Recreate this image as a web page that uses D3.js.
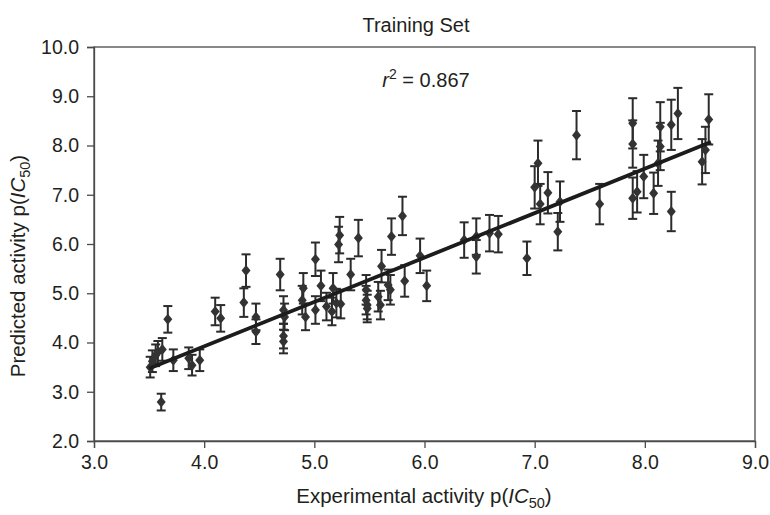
<!DOCTYPE html>
<html>
<head>
<meta charset="utf-8">
<script src="https://cdn.jsdelivr.net/npm/d3@7/dist/d3.min.js"></script>
<style>
  html, body { margin: 0; padding: 0; background: #fff; }
  svg { display: block; font-family: "Liberation Sans", Arial, Helvetica, sans-serif; }
</style>
</head>
<body>
<svg id="chart" width="770" height="515"></svg>
<script>
// ---- data ----
const expX = [3.51,3.53,3.56,3.58,3.62,3.61,3.67,3.72,3.86,3.89,3.96,4.10,4.15,4.36,4.38,4.47,4.47,4.69,4.72,4.73,
  4.72,4.72,4.89,4.90,4.92,5.01,5.01,5.06,5.11,5.16,5.17,5.20,5.24,5.22,5.23,5.33,5.40,5.47,5.47,5.48,
  5.48,5.58,5.60,5.61,5.67,5.69,5.70,5.80,5.82,5.96,6.02,6.36,6.47,6.47,6.59,6.67,6.93,7.00,7.03,7.05,
  7.12,7.21,7.23,7.38,7.59,7.89,7.89,7.89,7.93,7.99,8.08,8.14,8.14,8.12,8.24,8.24,8.30,8.52,8.55,8.58];
const predY = [3.50,3.62,3.74,3.80,3.86,2.79,4.47,3.64,3.68,3.54,3.64,4.63,4.49,4.81,5.46,4.52,4.22,5.38,4.66,4.52,
  4.13,4.02,4.86,5.10,4.52,5.69,4.66,5.15,4.73,4.63,5.10,4.80,4.78,5.99,6.18,5.38,6.12,5.07,4.86,4.76,
  4.69,4.93,4.76,5.55,5.17,5.07,6.15,6.57,5.25,5.76,5.15,6.08,6.15,5.74,6.22,6.20,5.71,7.15,7.64,6.81,
  7.04,6.25,6.86,8.21,6.81,8.45,8.03,6.93,7.06,7.37,7.03,8.38,7.98,7.64,6.66,8.42,8.65,7.67,7.91,8.53];
const predErr = [0.21,0.22,0.22,0.23,0.23,0.17,0.27,0.22,0.22,0.21,0.22,0.28,0.27,0.29,0.33,0.27,0.25,0.32,0.28,0.27,
  0.25,0.24,0.29,0.31,0.27,0.34,0.28,0.31,0.28,0.28,0.31,0.29,0.29,0.36,0.37,0.32,0.37,0.30,0.29,0.29,
  0.28,0.30,0.29,0.33,0.31,0.30,0.37,0.39,0.32,0.35,0.31,0.36,0.37,0.34,0.37,0.37,0.34,0.43,0.46,0.41,
  0.42,0.38,0.41,0.49,0.41,0.51,0.48,0.42,0.42,0.44,0.42,0.50,0.48,0.46,0.40,0.51,0.52,0.46,0.47,0.51];
const fitX = [3.50, 8.60];
const fitY = [3.47, 8.07];
const xTicks = [3, 4, 5, 6, 7, 8, 9];
const yTicks = [2, 3, 4, 5, 6, 7, 8, 9, 10];
const titleText = "Training Set";
const r2Value = "0.867";

// ---- layout ----
const svg = d3.select("#chart");
const W = 770, H = 515;
const m = { left: 94, right: 15, top: 47, bottom: 74 };
const x = d3.scaleLinear().domain([3, 9]).range([m.left, W - m.right]);
const y = d3.scaleLinear().domain([2, 10]).range([H - m.bottom, m.top]);
const ink = "#2b2b2b";
const frame = "#4a4a4a";
const txt = "#231f20";

// frame (top/right)
svg.append("rect")
  .attr("x", x(3)).attr("y", y(10))
  .attr("width", x(9) - x(3)).attr("height", y(2) - y(10))
  .attr("fill", "none").attr("stroke", frame).attr("stroke-width", 1.3);

// axes
const fmt = d3.format(".1f");
const xAxis = svg.append("g").attr("transform", `translate(0,${y(2)})`)
  .call(d3.axisBottom(x).tickValues(xTicks).tickFormat(fmt).tickSizeOuter(0).tickSize(7).tickPadding(7));
const yAxis = svg.append("g").attr("transform", `translate(${x(3)},0)`)
  .call(d3.axisLeft(y).tickValues(yTicks).tickFormat(fmt).tickSizeOuter(0).tickSize(7).tickPadding(8));
[xAxis, yAxis].forEach(g => {
  g.select(".domain").attr("stroke", frame).attr("stroke-width", 1.3);
  g.selectAll(".tick line").attr("stroke", frame).attr("stroke-width", 1.3);
  g.selectAll(".tick text").attr("fill", txt).style("font-size", "19.5px")
    .style("font-family", "'Liberation Sans',Arial,Helvetica,sans-serif");
});

// data points
const pts = expX.map((v, i) => ({ x: v, y: predY[i], e: predErr[i] }));
const bars = svg.append("g").attr("stroke", ink).attr("stroke-width", 2).attr("fill", "none");
const cap = 4.5;
pts.forEach(p => {
  const cx = x(p.x), y1 = y(p.y + p.e), y0 = y(p.y - p.e);
  bars.append("line").attr("x1", cx).attr("x2", cx).attr("y1", y1).attr("y2", y0);
  bars.append("line").attr("x1", cx - cap).attr("x2", cx + cap).attr("y1", y1).attr("y2", y1);
  bars.append("line").attr("x1", cx - cap).attr("x2", cx + cap).attr("y1", y0).attr("y2", y0);
});

const diamond = "M0,-5.5L4.5,0L0,5.5L-4.5,0Z";
svg.append("g").selectAll("path").data(pts).join("path")
  .attr("d", diamond)
  .attr("transform", d => `translate(${x(d.x)},${y(d.y)})`)
  .attr("fill", "#333");

// regression line
svg.append("line")
  .attr("x1", x(fitX[0])).attr("y1", y(fitY[0]))
  .attr("x2", x(fitX[1])).attr("y2", y(fitY[1]))
  .attr("stroke", "#1e1b1c").attr("stroke-width", 3.8).attr("stroke-linecap", "butt");

// texts
svg.append("text").attr("x", 416).attr("y", 32).attr("text-anchor", "middle")
  .style("font-size", "20px").attr("fill", txt).text(titleText);

const r2 = svg.append("text").attr("x", 426).attr("y", 87).attr("text-anchor", "middle")
  .style("font-size", "20px").attr("fill", txt);
r2.append("tspan").style("font-style", "italic").text("r");
r2.append("tspan").attr("dy", -8).style("font-size", "14px").text("2");
r2.append("tspan").attr("dy", 8).text(" = " + r2Value);

const xt = svg.append("text").attr("x", 424).attr("y", 503).attr("text-anchor", "middle")
  .style("font-size", "20.5px").attr("fill", txt);
xt.append("tspan").text("Experimental activity p(");
xt.append("tspan").style("font-style", "italic").text("IC");
xt.append("tspan").attr("dy", 5).style("font-size", "14.5px").text("50");
xt.append("tspan").attr("dy", -5).text(")");

const yt = svg.append("text").attr("transform", `translate(25,${(y(2) + y(10)) / 2 + 22}) rotate(-90)`)
  .attr("text-anchor", "middle").style("font-size", "20.5px").attr("fill", txt);
yt.append("tspan").text("Predicted activity p(");
yt.append("tspan").style("font-style", "italic").text("IC");
yt.append("tspan").attr("dy", 5).style("font-size", "14.5px").text("50");
yt.append("tspan").attr("dy", -5).text(")");
</script>
</body>
</html>
